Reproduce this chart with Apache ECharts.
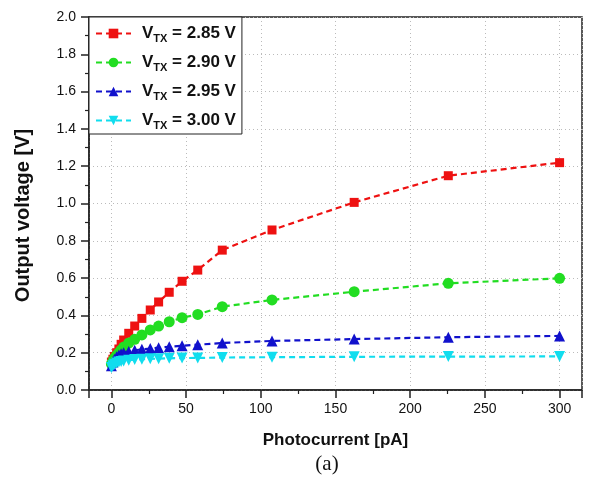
<!DOCTYPE html>
<html>
<head>
<meta charset="utf-8">
<script src="https://cdn.jsdelivr.net/npm/echarts@6/dist/echarts.min.js"></script>
<style>
  html, body { margin: 0; padding: 0; background: #fff; }
  #chart { width: 589px; height: 477px; }
</style>
</head>
<body>
<div id="chart"></div>
<script>
// photocurrent in pA
const photocurrent = [0, 1, 2, 3.5, 5, 6.5, 8.2, 11.6, 15.6, 20.4, 26, 31.6, 38.7, 47.3, 57.8, 74.2, 107.5, 162.5, 225.5, 300];
// output voltage [V] per VTX
const v285 = [0.15, 0.165, 0.18, 0.2, 0.22, 0.245, 0.268, 0.304, 0.343, 0.384, 0.429, 0.472, 0.524, 0.583, 0.643, 0.75, 0.858, 1.006, 1.149, 1.219];
const v290 = [0.14, 0.155, 0.17, 0.185, 0.2, 0.215, 0.23, 0.252, 0.272, 0.295, 0.322, 0.343, 0.366, 0.388, 0.405, 0.447, 0.483, 0.527, 0.572, 0.599];
const v295 = [0.13, 0.15, 0.165, 0.178, 0.188, 0.195, 0.2, 0.207, 0.213, 0.218, 0.222, 0.227, 0.232, 0.237, 0.243, 0.252, 0.263, 0.273, 0.283, 0.29];
const v300 = [0.12, 0.13, 0.138, 0.145, 0.15, 0.153, 0.156, 0.16, 0.163, 0.165, 0.167, 0.168, 0.17, 0.171, 0.172, 0.174, 0.176, 0.178, 0.179, 0.18];
const vtxLabels = ["2.85", "2.90", "2.95", "3.00"];

const myChart = echarts.init(document.getElementById("chart"));

const colors = ["#ee1111", "#22dd22", "#1111cc", "#11ddee"];
const symbols = ["rect", "circle", "triangle", "triangle"];
const rotates = [0, 0, 0, 180];
const sizes = [9, 11, 11, 11];
const allValues = [v285, v290, v295, v300];

const series = allValues.map(function (vals, i) {
  return {
    name: "V" + vtxLabels[i],
    type: "line",
    data: photocurrent.map(function (x, k) { return [x, vals[k]]; }),
    symbol: symbols[i],
    symbolRotate: rotates[i],
    symbolSize: sizes[i],
    itemStyle: { color: colors[i] },
    lineStyle: { color: colors[i], width: 2.2, type: [6, 4] },
    z: 3 + i,
    animation: false
  };
});

const legendText = {};
vtxLabels.forEach(function (v) {
  legendText["V" + v] = "{b|V}{s|TX}{b| = " + v + " V}";
});

const option = {
  backgroundColor: "#fff",
  textStyle: { fontFamily: "Liberation Sans" },
  grid: {
    left: 89,
    right: 7,
    top: 17,
    bottom: 87,
    show: true,
    borderColor: "#222",
    borderWidth: 1.5
  },
  legend: {
    orient: "vertical",
    left: 89,
    top: 17,
    padding: [8, 6, 3, 6],
    itemWidth: 35,
    itemHeight: 12,
    itemGap: 10,
    backgroundColor: "#fff",
    borderColor: "#222",
    borderWidth: 1,
    z: 10,
    formatter: function (name) { return legendText[name]; },
    textStyle: {
      padding: [0, 0, 0, 6],
      rich: {
        b: { fontSize: 17, fontWeight: "bold", color: "#111", fontFamily: "Liberation Sans" },
        s: { fontSize: 11, fontWeight: "bold", color: "#111", fontFamily: "Liberation Sans", padding: [10, 0, 0, 0] }
      }
    }
  },
  title: {
    text: "(a)",
    left: 322,
    top: 449,
    textAlign: "center",
    textStyle: { fontFamily: "Liberation Serif", fontWeight: "normal", fontSize: 21, color: "#111" }
  },
  xAxis: {
    type: "value",
    min: -15,
    max: 315,
    splitNumber: 6,
    name: "Photocurrent [pA]",
    nameLocation: "middle",
    nameGap: 42,
    nameTextStyle: { fontSize: 17, fontWeight: "bold", color: "#111" },
    axisLine: { onZero: false, lineStyle: { color: "#222", width: 1.5 } },
    axisTick: { show: true, length: 8, lineStyle: { color: "#222", width: 1.5 } },
    minorTick: { show: true, splitNumber: 2, length: 4, lineStyle: { color: "#222", width: 1.2 } },
    axisLabel: {
      fontSize: 14,
      color: "#111",
      margin: 12,
      showMinLabel: false,
      showMaxLabel: false
    },
    splitLine: { show: true, lineStyle: { color: "#bbb", type: [1, 3] } }
  },
  yAxis: {
    type: "value",
    min: 0,
    max: 2,
    interval: 0.2,
    name: "Output voltage [V]",
    nameLocation: "middle",
    nameGap: 56,
    nameTextStyle: { fontSize: 20, fontWeight: "bold", color: "#111", padding: [0, 24, 0, 0] },
    axisLine: { show: true, onZero: false, lineStyle: { color: "#222", width: 1.5 } },
    axisTick: { show: true, length: 8, lineStyle: { color: "#222", width: 1.5 } },
    minorTick: { show: true, splitNumber: 2, length: 4, lineStyle: { color: "#222", width: 1.2 } },
    axisLabel: {
      fontSize: 14,
      color: "#111",
      margin: 13,
      formatter: function (v) { return v.toFixed(1); }
    },
    splitLine: { show: true, lineStyle: { color: "#bbb", type: [1, 3] } }
  },
  series: series
};

myChart.setOption(option);
</script>
</body>
</html>
